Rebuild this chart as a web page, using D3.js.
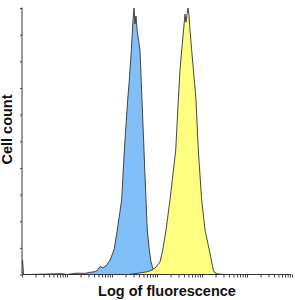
<!DOCTYPE html>
<html><head><meta charset="utf-8">
<script src="https://cdn.jsdelivr.net/npm/d3@7"></script>
<style>html,body{margin:0;padding:0;background:#fff;}svg{display:block;}</style>
</head><body>
<script>
// Fluorescence intensity (log axis) and cell counts (% of max)
const blueIntensity = [1, 1.03, 1.08, 1.2, 7.9, 10, 16, 25, 32, 40, 46, 54, 63, 74, 90, 111, 131, 164, 188, 223, 240, 269, 293, 308, 324, 341, 360, 419, 464, 514, 570, 608, 675, 736, 828, 904, 1000];
const blueCount     = [5.5, 5.5, 0, 0, 0.3, 0, 0.5, 0.4, 0.8, 1.0, 1.3, 3.0, 2.6, 3.2, 5.4, 9.2, 16.7, 28, 46.7, 65.5, 72, 84.2, 95.5, 100, 94, 97, 92, 84.2, 65.5, 46.7, 28, 16.7, 9.2, 4.7, 1.7, 0.5, 0];
const yellowIntensity = [251, 316, 419, 590, 736, 904, 1167, 1340, 1585, 1945, 2606, 2972, 3243, 3540, 3981, 4188, 4406, 4645, 4887, 5140, 5408, 5902, 7362, 8279, 9840, 11670, 14520, 16440, 17820, 19450, 22700, 32430];
const yellowCount     = [0, 0.3, 0.6, 1.0, 1.5, 2.4, 4.7, 9.2, 16.7, 28, 46.7, 65.5, 76.7, 84.2, 93.6, 97.7, 94.7, 97.4, 100, 97.4, 91.7, 84.2, 65.5, 46.7, 28, 16.7, 9.2, 4.7, 1.7, 0.6, 0.2, 0];
const yTickValues = [0, 10, 20, 30, 40, 50, 60, 70, 80, 90, 100];
const xDecades = [1, 10, 100, 1000, 10000, 100000];
const xLabel = "Log of fluorescence";
const yLabel = "Cell count";

const W = 295, H = 300;
const svg = d3.select("body").append("svg").attr("width", W).attr("height", H);

const x = d3.scaleLog().domain([1, 1e6]).range([22, 292]);
const y = d3.scaleLinear().domain([0, 100]).range([274.5, 8]);

const area = d3.area().x(d => x(d[0])).y0(y(0)).y1(d => y(d[1]));
const line = d3.line().x(d => x(d[0])).y(d => y(d[1]));

const blue = blueIntensity.map((v, i) => [v, blueCount[i]]);
const yellow = yellowIntensity.map((v, i) => [v, yellowCount[i]]);

svg.append("path").datum(blue).attr("d", area).attr("fill", "#82bef8");
svg.append("path").datum(blue).attr("d", line).attr("fill", "none").attr("stroke", "#333").attr("stroke-width", 0.9);
svg.append("path").datum(yellow).attr("d", area).attr("fill", "#fdfd80");
svg.append("path").datum(yellow).attr("d", line).attr("fill", "none").attr("stroke", "#333").attr("stroke-width", 0.9);

// x axis with log minor ticks
const xTicks = [];
xDecades.forEach(d => { for (let k = 1; k <= 9; k++) xTicks.push(d * k); });
xTicks.push(1e6);
const xAxis = d3.axisBottom(x).tickValues(xTicks).tickSize(3).tickFormat("").tickSizeOuter(0);
const gx = svg.append("g").attr("transform", `translate(0,${y(0)})`).call(xAxis);
gx.select(".domain").attr("stroke", "#333").attr("d", `M${x(1)},0H${x(1e6) - 1}`);
gx.selectAll(".tick line").attr("stroke", "#444");

const yAxis = d3.axisLeft(y).tickValues(yTickValues).tickSize(2).tickFormat("").tickSizeOuter(0);
const gy = svg.append("g").attr("transform", `translate(${x(1)},0)`).call(yAxis);
gy.select(".domain").attr("stroke", "#333").attr("d", `M0,${y(100) - 0.5}V${y(0)}`);
gy.selectAll(".tick line").attr("stroke", "#444");

svg.append("text").attr("x", 167).attr("y", 296).attr("text-anchor", "middle")
  .attr("font-family", "Liberation Sans, Arial, sans-serif").attr("font-weight", "bold")
  .attr("font-size", 14.5).attr("fill", "#111").text(xLabel);
svg.append("text").attr("transform", "translate(12,129.5) rotate(-90)").attr("text-anchor", "middle")
  .attr("font-family", "Liberation Sans, Arial, sans-serif").attr("font-weight", "bold")
  .attr("font-size", 14.5).attr("fill", "#111").text(yLabel);
</script>
</body></html>
